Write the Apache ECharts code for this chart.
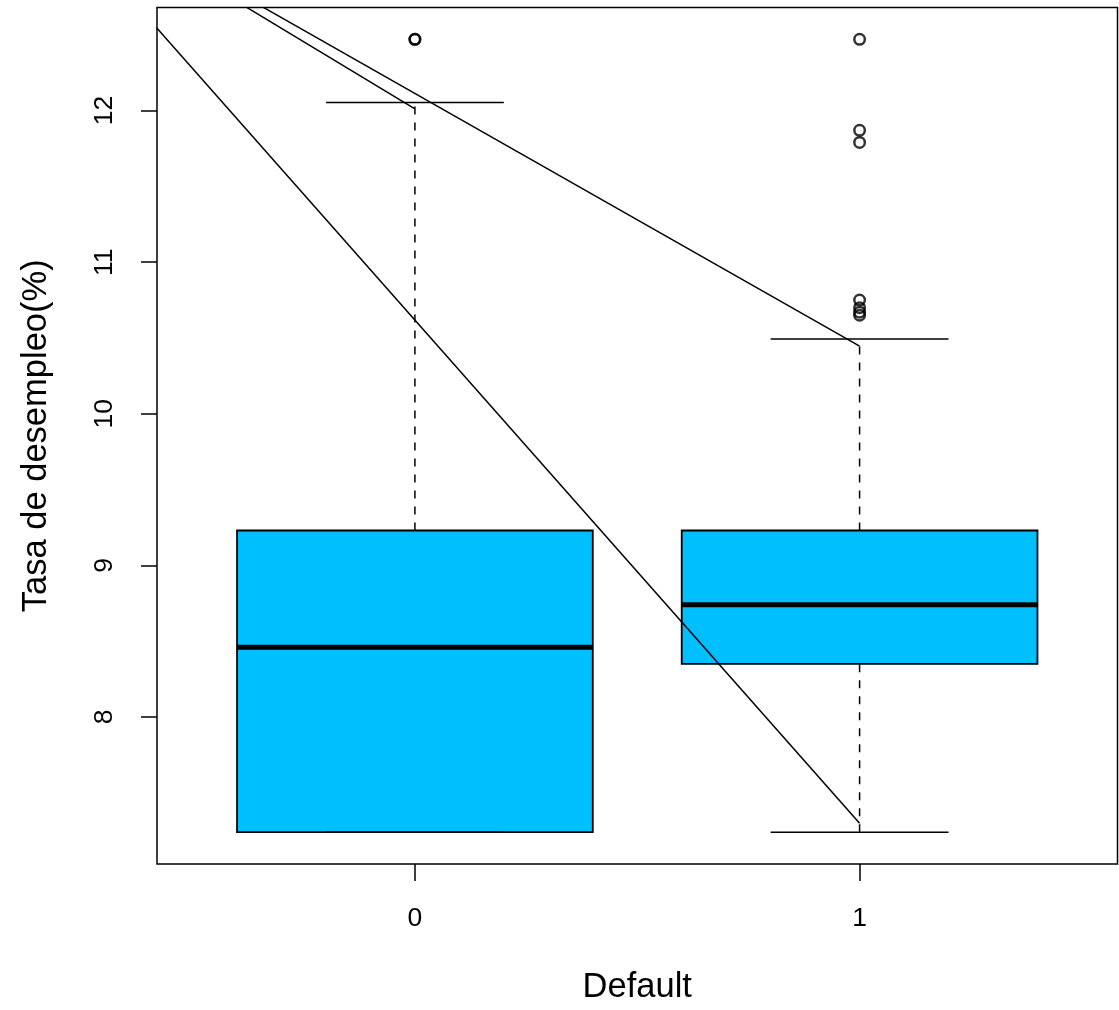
<!DOCTYPE html>
<html>
<head>
<meta charset="utf-8">
<script src="https://cdn.jsdelivr.net/npm/echarts@6/dist/echarts.min.js"></script>
<style>
  html, body { margin: 0; padding: 0; background: #ffffff; }
  #chart { width: 1119px; height: 1010px; }
</style>
</head>
<body>
<div id="chart"></div>
<script>
// Groups of the "Default" variable and their positions on the x scale
const categories = ['0', '1'];
const positions = [1, 2];

// Five-number summaries per group
const lowerWhisker = [7.24, 7.24];
const q1 = [7.24, 8.35];
const median = [8.46, 8.74];
const q3 = [9.23, 9.23];
const upperWhisker = [12.054, 10.494];

// Points beyond the whiskers
const outliers0 = [12.47, 12.47];
const outliers1 = [12.47, 11.87, 11.79, 10.75, 10.70, 10.67, 10.65];

// Tick values of the unemployment axis
const yTicks = [8, 9, 10, 11, 12];

// Straight segments drawn over the boxes, as [x, y] pairs in axis units
const segmentA = [[0.419, 12.547], [2.0, 7.299]];
const segmentB = [[0.6218, 12.681], [1.0, 12.011]];
const segmentC = [[0.6593, 12.681], [2.0, 10.446]];

const FONT = 'Liberation Sans, Arial, Helvetica, sans-serif';
const BOX_FILL = '#00BFFF';

const boxData = positions.map((p, i) => [p, lowerWhisker[i], q1[i], median[i], q3[i], upperWhisker[i]]);
const outlierData = []
  .concat(outliers0.map(v => [positions[0], v]))
  .concat(outliers1.map(v => [positions[1], v]));

function renderBox(params, api) {
  const x = api.value(0);
  const lo = api.value(1), a = api.value(2), m = api.value(3), b = api.value(4), hi = api.value(5);
  const halfBox = 0.4, halfCap = 0.2;
  const c = (xx, yy) => api.coord([xx, yy]);
  const pLo = c(x, lo), pA = c(x, a), pB = c(x, b), pHi = c(x, hi);
  const boxL = c(x - halfBox, b), boxR = c(x + halfBox, a);
  const capL = c(x - halfCap, 0)[0], capR = c(x + halfCap, 0)[0];
  const medL = c(x - halfBox, m), medR = c(x + halfBox, m);
  const thin = { stroke: '#000', lineWidth: 1.5, fill: null };
  return {
    type: 'group',
    children: [
      { type: 'rect', shape: { x: boxL[0], y: boxL[1], width: boxR[0] - boxL[0], height: boxR[1] - boxL[1] },
        style: { fill: BOX_FILL, stroke: '#000', lineWidth: 1.8 } },
      { type: 'line', shape: { x1: medL[0], y1: medL[1], x2: medR[0], y2: medR[1] },
        style: { stroke: '#000', lineWidth: 5 } },
      { type: 'line', shape: { x1: pB[0], y1: pB[1], x2: pHi[0], y2: pHi[1] },
        style: Object.assign({ lineDash: [8, 8] }, thin) },
      { type: 'line', shape: { x1: pLo[0], y1: pLo[1], x2: pA[0], y2: pA[1] },
        style: Object.assign({ lineDash: [8, 8] }, thin) },
      { type: 'line', shape: { x1: capL, y1: pHi[1], x2: capR, y2: pHi[1] }, style: thin },
      { type: 'line', shape: { x1: capL, y1: pLo[1], x2: capR, y2: pLo[1] }, style: thin }
    ]
  };
}

const segmentSeries = [segmentA, segmentB, segmentC].map(seg => ({
  type: 'line',
  data: seg,
  symbol: 'none',
  clip: true,
  silent: true,
  z: 5,
  lineStyle: { color: '#000', width: 1.5 }
}));

const chart = echarts.init(document.getElementById('chart'), null, { renderer: 'canvas' });
chart.setOption({
  animation: false,
  backgroundColor: '#ffffff',
  grid: {
    left: 157, right: 1.5, top: 7.5, bottom: 143.5,
    show: true, borderColor: '#000', borderWidth: 1.5, backgroundColor: 'transparent'
  },
  xAxis: {
    type: 'value',
    min: 0.42, max: 2.58,
    axisLine: { show: false },
    splitLine: { show: false },
    axisTick: { customValues: positions, length: 17, lineStyle: { color: '#000', width: 1.5 } },
    axisLabel: {
      customValues: positions,
      formatter: v => categories[positions.indexOf(Math.round(v))],
      color: '#000', fontSize: 26.5, fontFamily: FONT, margin: 41
    },
    name: 'Default',
    nameLocation: 'middle',
    nameGap: 106,
    nameTextStyle: { color: '#000', fontSize: 34.5, fontFamily: FONT }
  },
  yAxis: {
    type: 'value',
    min: 7.03, max: 12.68,
    axisLine: { show: false },
    splitLine: { show: false },
    axisTick: { customValues: yTicks, length: 16, lineStyle: { color: '#000', width: 1.5 } },
    axisLabel: {
      customValues: yTicks,
      rotate: 90,
      color: '#000', fontSize: 26.5, fontFamily: FONT, margin: 39
    },
    name: 'Tasa de desempleo(%)',
    nameLocation: 'middle',
    nameRotate: 90,
    nameGap: 103,
    nameTextStyle: { color: '#000', fontSize: 34.5, fontFamily: FONT }
  },
  series: [
    {
      type: 'custom',
      renderItem: renderBox,
      data: boxData,
      clip: true,
      silent: true,
      z: 2
    },
    {
      type: 'scatter',
      data: outlierData,
      symbol: 'circle',
      symbolSize: 10.5,
      silent: true,
      z: 3,
      itemStyle: { color: 'rgba(0,0,0,0)', borderColor: '#000', borderWidth: 2.5 }
    }
  ].concat(segmentSeries)
});
</script>
</body>
</html>
